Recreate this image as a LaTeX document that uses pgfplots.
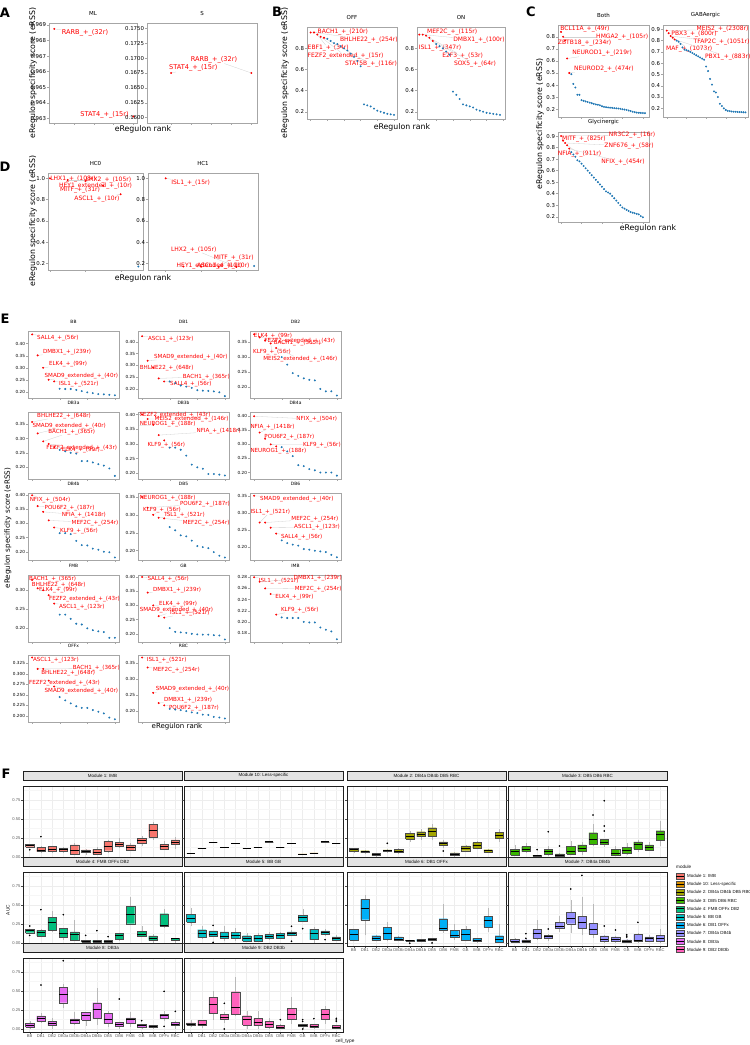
\documentclass[border=0pt]{standalone}
\usepackage{fontspec}
\setmainfont{DejaVu Sans}
\newfontfamily\ggf{Liberation Sans}
\usepackage{pgfplots}
\pgfplotsset{compat=1.18}
\newcommand\fs[1]{\fontsize{#1}{#1}\selectfont}

\definecolor{cblue}{HTML}{1F77B4}
\definecolor{m1}{HTML}{F8766D}
\definecolor{m10}{HTML}{D89000}
\definecolor{m2}{HTML}{A3A500}
\definecolor{m3}{HTML}{39B600}
\definecolor{m4}{HTML}{00BF7D}
\definecolor{m5}{HTML}{00BFC4}
\definecolor{m6}{HTML}{00B0F6}
\definecolor{m7}{HTML}{9590FF}
\definecolor{m8}{HTML}{E76BF3}
\definecolor{m9}{HTML}{FF62BC}

\pgfplotsset{
  every axis/.append style={scaled ticks=false, /pgf/number format/assume math mode=true},
  pos/.style 2 args={at={(#1pt,-#2pt)}, anchor=north west},
  rs/.style={scale only axis, clip=false, axis line style={gray!70, line width=0.4pt},
    tick pos=left, tick align=outside, major tick length=1.8pt,
    tick style={gray!70, line width=0.4pt}, xticklabels={},
    title style={font=\fs{5.5}, inner sep=1.2pt},
    yticklabel style={font=\fs{5.4}, inner sep=1pt}},
  es/.style={rs, width=91pt, height=67pt, xmin=-0.75, xmax=15.75, xtick={0,5,10,15},
    title style={font=\fs{4.4}, inner sep=1.2pt}, yticklabel style={font=\fs{4.2}}},
  prec/.style={yticklabel style={/pgf/number format/.cd, fixed, fixed zerofill, precision=#1}},
  rp/.style={only marks, mark=*, mark size=0.75pt, color=red, mark options={draw=none, fill=red}},
  bp/.style={only marks, mark=*, mark size=0.75pt, color=cblue, mark options={draw=none, fill=cblue}},
  % ggplot facets
  fb/.style={scale only axis, width=159pt, height=74pt, xmin=0.4, xmax=14.6, ymin=-0.04, ymax=0.935,
    xtick={1,2,...,14}, xticklabels={BB,DB1,DB2,DB3a,DB3b,DB4a,DB4b,DB5,DB6,FMB,GB,IMB,OFFx,RBC},
    ytick={0,0.25,0.5,0.75}, minor ytick={0.125,0.375,0.625,0.875},
    xmajorgrids, ymajorgrids, yminorgrids,
    major grid style={gray!14, line width=0.45pt}, minor grid style={gray!7, line width=0.3pt},
    axis line style={gray!25!black, line width=0.45pt},
    tick pos=left, tick align=outside, major tick length=1.6pt, minor tick length=0pt,
    tick style={gray!60!black, line width=0.35pt},
    xticklabel style={font=\ggf\fs{4.1}, text=gray!70!black, inner sep=0.8pt},
    yticklabel style={font=\ggf\fs{4.1}, text=gray!70!black, inner sep=0.8pt,
      /pgf/number format/.cd, fixed, fixed zerofill, precision=2}},
  nox/.style={xticklabels={}},
  noy/.style={yticklabels={}},
  strip/.style={title={#1}, title style={at={(0.5,1)}, anchor=south, yshift=-0.2pt,
    fill=gray!22, draw=gray!25!black, line width=0.45pt, minimum width=159pt,
    minimum height=9pt, inner sep=0pt, font=\ggf\fs{4.5}, text=gray!10!black}},
}
\tikzset{lc/.style={gray!35, line width=0.3pt}}

\newcommand\lab[5]{\node[lab] (L) at (axis cs:#1,#2) {#3}; \draw[lc] (L) -- (axis cs:#4,#5);}
% box: position, lower whisker, lower quartile, median, upper quartile, upper whisker
\newcommand\bxp[6]{%
  \pgfmathsetmacro\bxl{#1-0.375}\pgfmathsetmacro\bxr{#1+0.375}%
  \addplot[gray!55, line width=0.35pt] coordinates {(#1,#2) (#1,#3)};
  \addplot[gray!55, line width=0.35pt] coordinates {(#1,#5) (#1,#6)};
  \addplot[fill=mc, draw=gray!60!black, line width=0.35pt, line join=miter]
    coordinates {(\bxl,#3) (\bxr,#3) (\bxr,#5) (\bxl,#5) (\bxl,#3)};
  \addplot[black, line width=0.8pt] coordinates {(\bxl,#4) (\bxr,#4)};
}
\newcommand\olr[1]{\addplot[only marks, mark=*, mark size=0.6pt, color=black] coordinates {#1};}

\begin{document}
\begin{tikzpicture}
\fill[white] (0,0) rectangle (750pt,-1045pt);
\useasboundingbox (0,0) rectangle (750pt,-1045pt);

% ---------------- Panel A ----------------
\tikzset{lab/.style={text=red, anchor=west, inner sep=0.2pt, font=\fs{6.6}}}
\begin{axis}[rs, pos={49}{23}, width=88pt, height=100pt, title={ML},
  xmin=-0.067, xmax=1.047, xtick={0,0.25,0.5,0.75,1},
  ymin=0.9627, ymax=0.96913, ytick={0.963,0.964,0.965,0.966,0.967,0.968,0.969}, prec=3]
\addplot[rp] coordinates {(0,0.96875) (1,0.96312)};
\lab{0.09}{0.9685}{RARB\_+\_(32r)}{0}{0.96875}
\lab{0.325}{0.9632}{STAT4\_+\_(15r)}{1}{0.96312}
\end{axis}
\begin{axis}[rs, pos={147}{23}, width=110pt, height=100pt, title={S},
  xmin=-0.30, xmax=1.07, xtick={0,0.25,0.5,0.75,1},
  ymin=0.1591, ymax=0.1759, ytick={0.16,0.1625,0.165,0.1675,0.17,0.1725,0.175}, prec=4]
\addplot[rp] coordinates {(0,0.1675) (1,0.1675)};
\lab{0.24}{0.1697}{RARB\_+\_(32r)}{1}{0.1675}
\lab{-0.03}{0.1683}{STAT4\_+\_(15r)}{0}{0.1675}
\end{axis}

% ---------------- Panel B ----------------
\tikzset{lab/.style={text=red, anchor=west, inner sep=0.2pt, font=\fs{6}}}
\begin{axis}[rs, pos={307}{27}, width=90pt, height=92pt, title={OFF},
  xmin=-1.1, xmax=25.9, xtick={0,5,...,25},
  ymin=0.131, ymax=1.002, ytick={0.2,0.4,0.6,0.8}, prec=1]
\addplot[bp] coordinates {(5,.89)(6,.87)(7,.85)(8,.84)(9,.82)(10,.80)(11,.78)(12,.75)(13,.72)(14,.68)(15,.63)
 (16,.27)(17,.26)(18,.25)(19,.23)(20,.21)(21,.20)(22,.19)(23,.18)(24,.175)(25,.17)};
\addplot[rp] coordinates {(0,.95)(1,.95)(2,.93)(3,.91)(4,.90)};
\lab{2}{.952}{BACH1\_+\_(210r)}{0}{.95}
\lab{8.7}{.879}{BHLHE22\_+\_(254r)}{1}{.95}
\lab{-1}{.80}{EBF1\_+\_(34r)}{2}{.93}
\lab{-1}{.727}{FEZF2\_extended\_+\_(15r)}{3}{.91}
\lab{10.2}{.651}{STAT5B\_+\_(116r)}{4}{.90}
\end{axis}
\begin{axis}[rs, pos={417}{27}, width=88pt, height=92pt, title={ON},
  xmin=-0.7, xmax=25.5, xtick={0,5,...,25},
  ymin=0.131, ymax=1.002, ytick={0.2,0.4,0.6,0.8}, prec=1]
\addplot[bp] coordinates {(5,.84)(6,.82)(7,.80)(8,.77)(9,.74)(10,.39)(11,.36)(12,.32)(13,.27)(14,.26)(15,.25)
 (16,.24)(17,.22)(18,.21)(19,.20)(20,.19)(21,.185)(22,.18)(23,.175)(24,.17)};
\addplot[rp] coordinates {(0,.93)(1,.93)(2,.92)(3,.90)(4,.87)};
\lab{2.2}{.952}{MEF2C\_+\_(115r)}{0}{.93}
\lab{10}{.879}{DMBX1\_+\_(100r)}{1}{.93}
\lab{-0.3}{.806}{ISL1\_+\_(347r)}{2}{.92}
\lab{6.7}{.727}{E2F3\_+\_(53r)}{3}{.90}
\lab{10.2}{.651}{SOX5\_+\_(64r)}{4}{.87}
\end{axis}

% ---------------- Panel C ----------------
\begin{axis}[rs, pos={558}{25}, width=91pt, height=92pt, title={Both},
  xmin=-1.5, xmax=43, xtick={0,10,20,30,40},
  ymin=0.136, ymax=0.897, ytick={0.2,0.3,0.4,0.5,0.6,0.7,0.8}, prec=1]
\addplot[bp] coordinates {(5,.49)(6,.41)(7,.38)(8,.32)(9,.32)(10,.275)(11,.27)(12,.265)(13,.26)(14,.255)(15,.25)
 (16,.245)(17,.24)(18,.237)(19,.233)(20,.225)(21,.22)(22,.217)(23,.215)(24,.213)(25,.212)(26,.21)(27,.208)
 (28,.206)(29,.204)(30,.20)(31,.198)(32,.195)(33,.19)(34,.185)(35,.18)(36,.176)(37,.173)(38,.171)(39,.17)
 (40,.169)(41,.168)};
\addplot[rp] coordinates {(0,.84)(1,.80)(2,.77)(3,.62)(4,.50)};
\lab{-0.5}{.861}{BCL11A\_+\_(49r)}{0}{.84}
\lab{17}{.80}{HMGA2\_+\_(105r)}{1}{.80}
\lab{-1.7}{.745}{ZBTB18\_+\_(234r)}{2}{.77}
\lab{5.3}{.662}{NEUROD1\_+\_(219r)}{3}{.62}
\lab{6.2}{.533}{NEUROD2\_+\_(474r)}{4}{.50}
\end{axis}
\begin{axis}[rs, pos={663}{25}, width=85pt, height=92pt, title={GABAergic},
  xmin=-1.9, xmax=41.3, xtick={0,10,20,30,40},
  ymin=0.123, ymax=0.938, ytick={0.2,0.3,0.4,0.5,0.6,0.7,0.8,0.9}, prec=1]
\addplot[bp] coordinates {(5,.80)(6,.79)(7,.77)(8,.74)(9,.72)(10,.715)(11,.71)(12,.70)(13,.69)(14,.68)(15,.67)
 (16,.66)(17,.65)(18,.64)(19,.63)(20,.57)(21,.53)(22,.46)(23,.41)(24,.35)(25,.34)(26,.30)(27,.24)(28,.22)
 (29,.20)(30,.185)(31,.178)(32,.175)(33,.172)(34,.17)(35,.169)(36,.168)(37,.167)(38,.166)(39,.165)(40,.164)};
\addplot[rp] coordinates {(0,.888)(1,.865)(2,.84)(3,.826)(4,.81)};
\lab{15}{.90}{MEIS2\_+\_(2308r)}{0}{.888}
\lab{2.2}{.856}{PBX3\_+\_(800r)}{1}{.865}
\lab{13.5}{.785}{TFAP2C\_+\_(1051r)}{2}{.84}
\lab{-0.5}{.723}{MAF\_+\_(1073r)}{3}{.826}
\lab{19.3}{.658}{PBX1\_+\_(883r)}{4}{.81}
\end{axis}
\begin{axis}[rs, pos={558}{132}, width=91pt, height=90pt, title={Glycinergic},
  xmin=-1.5, xmax=43, xtick={0,10,20,30,40},
  ymin=0.154, ymax=0.935, ytick={0.2,0.3,0.4,0.5,0.6,0.7,0.8,0.9}, prec=1]
\addplot[bp] coordinates {(5,.76)(6,.74)(7,.72)(8,.69)(9,.68)(10,.66)(11,.64)(12,.62)(13,.60)(14,.58)(15,.56)
 (16,.54)(17,.52)(18,.50)(19,.48)(20,.46)(21,.44)(22,.42)(23,.41)(24,.40)(25,.38)(26,.36)(27,.34)(28,.32)
 (29,.30)(30,.28)(31,.27)(32,.26)(33,.25)(34,.24)(35,.235)(36,.23)(37,.225)(38,.22)(39,.205)(40,.195)};
\addplot[rp] coordinates {(0,.90)(1,.86)(2,.84)(3,.82)(4,.79)};
\lab{23.2}{.909}{NR3C2\_+\_(16r)}{0}{.90}
\lab{0.3}{.871}{MITF\_+\_(825r)}{1}{.86}
\lab{21}{.813}{ZNF676\_+\_(58r)}{2}{.84}
\lab{-1.8}{.744}{NFIA\_+\_(911r)}{3}{.82}
\lab{19.5}{.672}{NFIX\_+\_(454r)}{4}{.79}
\end{axis}

% ---------------- Panel D ----------------
\begin{axis}[rs, pos={48}{173}, width=95pt, height=97pt, title={HC0},
  xmin=-0.11, xmax=5.26, xtick={0,2,4},
  ymin=0.137, ymax=1.05, ytick={0.2,0.4,0.6,0.8,1.0}, prec=1]
\addplot[bp] coordinates {(5,.17)};
\addplot[rp] coordinates {(0,1.0)(1,.985)(2,.975)(3,.93)(4,.85)};
\lab{0}{.995}{LHX1\_+\_(108r)}{0}{1.0}
\lab{2}{.985}{LHX2\_+\_(105r)}{1}{.985}
\lab{0.5}{.93}{HEY1\_extended\_+\_(10r)}{2}{.975}
\lab{0.55}{.89}{MITF\_+\_(31r)}{3}{.93}
\lab{1.36}{.81}{ASCL1\_+\_(10r)}{4}{.85}
\end{axis}
\begin{axis}[rs, pos={148}{173}, width=110pt, height=97pt, title={HC1},
  xmin=-1.0, xmax=5.22, xtick={0,2,4},
  ymin=0.137, ymax=1.05, ytick={0.2,0.4,0.6,0.8,1.0}, prec=1]
\addplot[bp] coordinates {(5,.175)};
\addplot[rp] coordinates {(0,1.0)(1,.17)(2,.168)(3,.167)(4,.166)};
\lab{0.3}{.96}{ISL1\_+\_(15r)}{0}{1.0}
\lab{0.28}{.33}{LHX2\_+\_(105r)}{4}{.166}
\lab{2.7}{.255}{MITF\_+\_(31r)}{3}{.167}
\lab{0.6}{.18}{HEY1\_extended\_+\_(10r)}{1}{.17}
\lab{1.75}{.18}{ASCL1\_+\_(10r)}{2}{.168}
\end{axis}

% ---------------- Panel E ----------------
\tikzset{lab/.style={text=red, anchor=west, inner sep=0.2pt, font=\fs{5.6}}}
\begin{axis}[es, pos={28}{331}, title={BB}, ymin=0.177, ymax=0.452, ytick={0.2,0.25,0.3,0.35,0.4}, prec=2]
\addplot[bp] coordinates {(5,.215)(6,.214)(7,.214)(8,.21)(9,.205)(10,.20)(11,.197)(12,.193)(13,.192)(14,.19)(15,.188)};
\addplot[rp] coordinates {(0,.438)(1,.352)(2,.301)(3,.252)(4,.245)};
\lab{0.85}{.424}{SALL4\_+\_(56r)}{0}{.438}
\lab{1.9}{.366}{DMBX1\_+\_(239r)}{1}{.352}
\lab{3}{.316}{ELK4\_+\_(99r)}{2}{.301}
\lab{2.2}{.268}{SMAD9\_extended\_+\_(40r)}{3}{.252}
\lab{4.8}{.234}{ISL1\_+\_(521r)}{4}{.245}
\end{axis}
\begin{axis}[es, pos={138}{331}, title={DB1}, ymin=0.162, ymax=0.446, ytick={0.2,0.25,0.3,0.35,0.4}, prec=2]
\addplot[bp] coordinates {(5,.232)(6,.225)(7,.215)(8,.21)(9,.205)(10,.195)(11,.193)(12,.192)(13,.19)(14,.186)(15,.17)};
\addplot[rp] coordinates {(0,.424)(1,.32)(2,.29)(3,.245)(4,.232)};
\lab{1}{.414}{ASCL1\_+\_(123r)}{0}{.424}
\lab{2.1}{.337}{SMAD9\_extended\_+\_(40r)}{1}{.32}
\lab{-0.5}{.287}{BHLHE22\_+\_(648r)}{2}{.29}
\lab{7.3}{.253}{BACH1\_+\_(365r)}{3}{.245}
\lab{5}{.222}{SALL4\_+\_(56r)}{4}{.232}
\end{axis}
\begin{axis}[es, pos={250}{331}, title={DB2}, ymin=0.165, ymax=0.386, ytick={0.2,0.25,0.3,0.35}, prec=2]
\addplot[bp] coordinates {(5,.30)(6,.275)(7,.247)(8,.238)(9,.23)(10,.225)(11,.223)(12,.195)(13,.187)(14,.187)(15,.173)};
\addplot[rp] coordinates {(0,.375)(1,.365)(2,.355)(3,.345)(4,.33)};
\lab{-0.1}{.37}{ELK4\_+\_(99r)}{0}{.375}
\lab{1.8}{.354}{FEZF2\_extended\_+\_(43r)}{1}{.365}
\lab{3.5}{.346}{BACH1\_+\_(365r)}{2}{.355}
\lab{-0.25}{.316}{KLF9\_+\_(56r)}{3}{.345}
\lab{1.6}{.293}{MEIS2\_extended\_+\_(146r)}{4}{.33}
\end{axis}

\begin{axis}[es, pos={28}{412}, title={DB3a}, ymin=0.158, ymax=0.393, ytick={0.2,0.25,0.3,0.35}, prec=2]
\addplot[bp] coordinates {(5,.26)(6,.255)(7,.25)(8,.247)(9,.221)(10,.221)(11,.216)(12,.21)(13,.205)(14,.195)(15,.169)};
\addplot[rp] coordinates {(0,.358)(1,.318)(2,.29)(3,.281)(4,.27)};
\lab{0.85}{.38}{BHLHE22\_+\_(648r)}{0}{.358}
\lab{0}{.345}{SMAD9\_extended\_+\_(40r)}{1}{.318}
\lab{2.85}{.323}{BACH1\_+\_(365r)}{2}{.29}
\lab{2.5}{.265}{FEZF2\_extended\_+\_(43r)}{3}{.281}
\lab{5.3}{.26}{ELK4\_+\_(99r)}{4}{.27}
\end{axis}
\begin{axis}[es, pos={138}{412}, title={DB3b}, ymin=0.18, ymax=0.409, ytick={0.2,0.25,0.3,0.35,0.4}, prec=2]
\addplot[bp] coordinates {(5,.287)(6,.287)(7,.28)(8,.26)(9,.229)(10,.22)(11,.215)(12,.197)(13,.197)(14,.195)(15,.192)};
\addplot[rp] coordinates {(0,.40)(1,.385)(2,.365)(3,.33)(4,.312)};
\lab{-0.5}{.40}{FEZF2\_extended\_+\_(43r)}{0}{.40}
\lab{2.2}{.384}{MEIS2\_extended\_+\_(146r)}{1}{.385}
\lab{-0.5}{.368}{NEUROG1\_+\_(188r)}{2}{.365}
\lab{9.8}{.343}{NFIA\_+\_(1418r)}{3}{.33}
\lab{0.9}{.295}{KLF9\_+\_(56r)}{4}{.312}
\end{axis}
\begin{axis}[es, pos={250}{412}, title={DB4a}, ymin=0.177, ymax=0.415, ytick={0.2,0.25,0.3,0.35,0.4}, prec=2]
\addplot[bp] coordinates {(5,.29)(6,.275)(7,.258)(8,.226)(9,.223)(10,.212)(11,.208)(12,.20)(13,.20)(14,.20)(15,.189)};
\addplot[rp] coordinates {(0,.40)(1,.342)(2,.32)(3,.30)(4,.293)};
\lab{7.6}{.389}{NFIX\_+\_(504r)}{0}{.40}
\lab{-0.73}{.363}{NFIA\_+\_(1418r)}{1}{.342}
\lab{1.8}{.327}{POU6F2\_+\_(187r)}{2}{.32}
\lab{8.8}{.299}{KLF9\_+\_(56r)}{3}{.30}
\lab{-0.73}{.276}{NEUROG1\_+\_(188r)}{4}{.293}
\end{axis}

\begin{axis}[es, pos={28}{493}, title={DB4b}, ymin=0.171, ymax=0.406, ytick={0.2,0.25,0.3,0.35,0.4}, prec=2]
\addplot[bp] coordinates {(5,.265)(6,.265)(7,.262)(8,.238)(9,.223)(10,.222)(11,.211)(12,.207)(13,.20)(14,.198)(15,.18)};
\addplot[rp] coordinates {(0,.398)(1,.36)(2,.34)(3,.31)(4,.285)};
\lab{-0.5}{.383}{NFIX\_+\_(504r)}{0}{.398}
\lab{2.2}{.355}{POU6F2\_+\_(187r)}{1}{.36}
\lab{5.3}{.328}{NFIA\_+\_(1418r)}{2}{.34}
\lab{7.1}{.302}{MEF2C\_+\_(254r)}{3}{.31}
\lab{5}{.274}{KLF9\_+\_(56r)}{4}{.285}
\end{axis}
\begin{axis}[es, pos={138}{493}, title={DB5}, ymin=0.174, ymax=0.361, ytick={0.2,0.25,0.3,0.35}, prec=2]
\addplot[bp] coordinates {(5,.266)(6,.257)(7,.243)(8,.24)(9,.228)(10,.213)(11,.21)(12,.207)(13,.196)(14,.186)(15,.181)};
\addplot[rp] coordinates {(0,.35)(1,.32)(2,.30)(3,.292)(4,.29)};
\lab{-0.5}{.348}{NEUROG1\_+\_(188r)}{0}{.35}
\lab{6.8}{.331}{POU6F2\_+\_(187r)}{1}{.32}
\lab{0.1}{.313}{KLF9\_+\_(56r)}{2}{.30}
\lab{4.1}{.299}{ISL1\_+\_(521r)}{3}{.292}
\lab{7.3}{.277}{MEF2C\_+\_(254r)}{4}{.29}
\end{axis}
\begin{axis}[es, pos={250}{493}, title={DB6}, ymin=0.163, ymax=0.358, ytick={0.2,0.25,0.3,0.35}, prec=2]
\addplot[bp] coordinates {(5,.22)(6,.212)(7,.208)(8,.205)(9,.195)(10,.193)(11,.19)(12,.188)(13,.186)(14,.178)(15,.171)};
\addplot[rp] coordinates {(0,.35)(1,.272)(2,.272)(3,.257)(4,.24)};
\lab{1}{.341}{SMAD9\_extended\_+\_(40r)}{0}{.35}
\lab{-0.73}{.303}{ISL1\_+\_(521r)}{1}{.272}
\lab{6.7}{.282}{MEF2C\_+\_(254r)}{2}{.272}
\lab{7.2}{.258}{ASCL1\_+\_(123r)}{3}{.257}
\lab{4.8}{.231}{SALL4\_+\_(56r)}{4}{.24}
\end{axis}

\begin{axis}[es, pos={28}{575}, title={FMB}, ymin=0.164, ymax=0.34, ytick={0.2,0.25,0.3}, prec=2]
\addplot[bp] coordinates {(5,.236)(6,.236)(7,.225)(8,.212)(9,.21)(10,.20)(11,.195)(12,.192)(13,.19)(14,.175)(15,.175)};
\addplot[rp] coordinates {(0,.327)(1,.305)(2,.30)(3,.287)(4,.265)};
\lab{-0.6}{.329}{BACH1\_+\_(365r)}{0}{.327}
\lab{-0.1}{.313}{BHLHE22\_+\_(648r)}{1}{.305}
\lab{1.2}{.30}{ELK4\_+\_(99r)}{2}{.30}
\lab{3}{.278}{FEZF2\_extended\_+\_(43r)}{3}{.287}
\lab{4.8}{.257}{ASCL1\_+\_(123r)}{4}{.265}
\end{axis}
\begin{axis}[es, pos={138}{575}, title={GB}, ymin=0.171, ymax=0.407, ytick={0.2,0.25,0.3,0.35,0.4}, prec=2]
\addplot[bp] coordinates {(5,.22)(6,.207)(7,.205)(8,.203)(9,.20)(10,.198)(11,.197)(12,.197)(13,.195)(14,.194)(15,.18)};
\addplot[rp] coordinates {(0,.40)(1,.345)(2,.30)(3,.262)(4,.257)};
\lab{0.9}{.392}{SALL4\_+\_(56r)}{0}{.40}
\lab{1.9}{.353}{DMBX1\_+\_(239r)}{1}{.345}
\lab{3}{.303}{ELK4\_+\_(99r)}{2}{.30}
\lab{-0.5}{.282}{SMAD9\_extended\_+\_(40r)}{3}{.262}
\lab{5}{.274}{ISL1\_+\_(521r)}{4}{.257}
\end{axis}
\begin{axis}[es, pos={250}{575}, title={IMB}, ymin=0.164, ymax=0.284, ytick={0.18,0.2,0.22,0.24,0.26,0.28}, prec=2]
\addplot[bp] coordinates {(5,.208)(6,.207)(7,.207)(8,.207)(9,.20)(10,.199)(11,.199)(12,.19)(13,.186)(14,.183)(15,.169)};
\addplot[rp] coordinates {(0,.28)(1,.272)(2,.26)(3,.25)(4,.213)};
\lab{0.8}{.274}{ISL1\_+\_(521r)}{0}{.28}
\lab{7.1}{.279}{DMBX1\_+\_(239r)}{1}{.272}
\lab{7.3}{.259}{MEF2C\_+\_(254r)}{2}{.26}
\lab{3.8}{.244}{ELK4\_+\_(99r)}{3}{.25}
\lab{4.8}{.222}{KLF9\_+\_(56r)}{4}{.213}
\end{axis}

\begin{axis}[es, pos={28}{655}, title={OFFx}, ymin=0.1855, ymax=0.345, ytick={0.2,0.225,0.25,0.275,0.3,0.325}, prec=3]
\addplot[bp] coordinates {(5,.245)(6,.237)(7,.23)(8,.223)(9,.219)(10,.219)(11,.214)(12,.21)(13,.206)(14,.196)(15,.192)};
\addplot[rp] coordinates {(0,.339)(1,.312)(2,.312)(3,.284)(4,.27)};
\lab{0.1}{.333}{ASCL1\_+\_(123r)}{0}{.339}
\lab{7.3}{.313}{BACH1\_+\_(365r)}{1}{.312}
\lab{1.6}{.301}{BHLHE22\_+\_(648r)}{2}{.312}
\lab{-0.6}{.278}{FEZF2\_extended\_+\_(43r)}{3}{.284}
\lab{2.2}{.259}{SMAD9\_extended\_+\_(40r)}{4}{.27}
\end{axis}
\begin{axis}[es, pos={138}{655}, title={RBC}, ymin=0.167, ymax=0.376, ytick={0.2,0.25,0.3,0.35}, prec=2]
\addplot[bp] coordinates {(5,.208)(6,.206)(7,.204)(8,.201)(9,.197)(10,.195)(11,.19)(12,.189)(13,.183)(14,.181)(15,.178)};
\addplot[rp] coordinates {(0,.368)(1,.337)(2,.258)(3,.226)(4,.219)};
\lab{0.8}{.359}{ISL1\_+\_(521r)}{0}{.368}
\lab{1.9}{.329}{MEF2C\_+\_(254r)}{1}{.337}
\lab{2.4}{.269}{SMAD9\_extended\_+\_(40r)}{2}{.258}
\lab{3.9}{.236}{DMBX1\_+\_(239r)}{3}{.226}
\lab{4.8}{.211}{POU6F2\_+\_(187r)}{4}{.219}
\end{axis}

% axis labels and panel letters A-E
\node[rotate=90, font=\fs{7.8}] at (33pt,-73pt) {eRegulon specificity score (eRSS)};
\node[font=\fs{7.8}] at (143pt,-129pt) {eRegulon rank};
\node[rotate=90, font=\fs{7.8}] at (285pt,-73pt) {eRegulon specificity score (eRSS)};
\node[font=\fs{7.8}] at (402pt,-127pt) {eRegulon rank};
\node[rotate=90, font=\fs{7.8}] at (540pt,-124pt) {eRegulon specificity score (eRSS)};
\node[font=\fs{7.8}] at (648pt,-228pt) {eRegulon rank};
\node[rotate=90, font=\fs{7.8}] at (33pt,-221pt) {eRegulon specificity score (eRSS)};
\node[font=\fs{7.8}] at (143pt,-278pt) {eRegulon rank};
\node[rotate=90, font=\fs{7.2}] at (8pt,-528pt) {eRegulon specificity score (eRSS)};
\node[font=\fs{7}] at (177pt,-727pt) {eRegulon rank};
\node[font=\bfseries\fs{13}] at (5pt,-13pt) {A};
\node[font=\bfseries\fs{13}] at (277pt,-12pt) {B};
\node[font=\bfseries\fs{13}] at (531pt,-12pt) {C};
\node[font=\bfseries\fs{13}] at (5pt,-167pt) {D};
\node[font=\bfseries\fs{13}] at (5pt,-319pt) {E};
\node[font=\bfseries\fs{13}] at (6pt,-774pt) {F};

% ---------------- Panel F ----------------
\colorlet{mc}{m1}
\begin{axis}[fb, pos={23}{786}, strip={Module 1: IMB}, nox]
\bxp{1}{.13}{.135}{.149}{.17}{.175}
\bxp{2}{.05}{.07}{.088}{.123}{.14}
\bxp{3}{.05}{.07}{.10}{.136}{.15}
\bxp{4}{.06}{.07}{.096}{.114}{.13}
\bxp{5}{.02}{.04}{.088}{.158}{.18}
\bxp{6}{.03}{.057}{.079}{.092}{.11}
\bxp{7}{.02}{.04}{.06}{.10}{.13}
\bxp{8}{.05}{.083}{.145}{.21}{.23}
\bxp{9}{.12}{.14}{.167}{.193}{.25}
\bxp{10}{.08}{.092}{.13}{.158}{.19}
\bxp{11}{.14}{.18}{.219}{.245}{.28}
\bxp{12}{.23}{.26}{.346}{.434}{.46}
\bxp{13}{.09}{.105}{.136}{.167}{.21}
\bxp{14}{.10}{.167}{.197}{.224}{.26}
\olr{(1,.096)(2,.268)}
\end{axis}
\colorlet{mc}{m10}
\begin{axis}[fb, pos={184}{786}, strip={Module 10: Less-specific}, nox, noy]
\bxp{1}{.044}{.044}{.044}{.044}{.044}
\bxp{2}{.114}{.114}{.114}{.114}{.114}
\bxp{3}{.197}{.197}{.197}{.197}{.197}
\bxp{4}{.123}{.123}{.123}{.123}{.123}
\bxp{5}{.18}{.18}{.18}{.18}{.18}
\bxp{6}{.118}{.118}{.118}{.118}{.118}
\bxp{7}{.127}{.127}{.127}{.127}{.127}
\bxp{8}{.20}{.20}{.20}{.20}{.20}
\bxp{9}{.127}{.127}{.127}{.127}{.127}
\bxp{10}{.18}{.18}{.18}{.18}{.18}
\bxp{11}{.04}{.04}{.04}{.04}{.04}
\bxp{12}{.053}{.053}{.053}{.053}{.053}
\bxp{13}{.20}{.20}{.20}{.20}{.20}
\bxp{14}{.184}{.184}{.184}{.184}{.184}
\end{axis}
\colorlet{mc}{m2}
\begin{axis}[fb, pos={347}{786}, strip={Module 2: DB4a DB4b DB5 RBC}, nox, noy]
\bxp{1}{.06}{.07}{.096}{.114}{.12}
\bxp{2}{.04}{.057}{.07}{.083}{.09}
\bxp{3}{.01}{.018}{.03}{.044}{.05}
\bxp{4}{.06}{.07}{.083}{.092}{.10}
\bxp{5}{.04}{.057}{.079}{.105}{.12}
\bxp{6}{.20}{.237}{.276}{.31}{.34}
\bxp{7}{.23}{.268}{.30}{.333}{.37}
\bxp{8}{.22}{.268}{.342}{.386}{.43}
\bxp{9}{.12}{.15}{.18}{.20}{.22}
\bxp{10}{.01}{.018}{.035}{.053}{.07}
\bxp{11}{.07}{.083}{.114}{.145}{.16}
\bxp{12}{.10}{.118}{.158}{.19}{.21}
\bxp{13}{.05}{.061}{.083}{.096}{.10}
\bxp{14}{.20}{.246}{.285}{.325}{.37}
\olr{(4,.18)(9,.079)}
\end{axis}
\colorlet{mc}{m3}
\begin{axis}[fb, pos={508}{786}, strip={Module 3: DB5 DB6 RBC}, nox, noy]
\bxp{1}{.01}{.026}{.07}{.105}{.16}
\bxp{2}{.05}{.07}{.10}{.136}{.18}
\bxp{3}{0}{.01}{.018}{.026}{.03}
\bxp{4}{.01}{.04}{.07}{.105}{.15}
\bxp{5}{0}{.01}{.022}{.04}{.05}
\bxp{6}{.02}{.04}{.079}{.136}{.21}
\bxp{7}{.03}{.079}{.118}{.158}{.20}
\bxp{8}{.15}{.171}{.237}{.32}{.43}
\bxp{9}{.13}{.167}{.197}{.232}{.24}
\bxp{10}{.01}{.026}{.044}{.105}{.14}
\bxp{11}{.02}{.048}{.083}{.127}{.18}
\bxp{12}{.07}{.105}{.167}{.20}{.23}
\bxp{13}{.08}{.092}{.127}{.158}{.20}
\bxp{14}{.14}{.224}{.30}{.346}{.48}
\olr{(3,.096)(4,.333)(5,.145)(8,.553)(9,.741)(9,.408)(9,.342)}
\end{axis}

\colorlet{mc}{m4}
\begin{axis}[fb, pos={23}{872}, strip={Module 4: FMB OFFx DB2}, nox]
\bxp{1}{.135}{.135}{.162}{.18}{.18}
\bxp{2}{.08}{.092}{.136}{.167}{.18}
\bxp{3}{.14}{.167}{.272}{.342}{.42}
\bxp{4}{.04}{.07}{.132}{.189}{.20}
\bxp{5}{.03}{.035}{.114}{.145}{.30}
\bxp{6}{0}{.009}{.018}{.035}{.04}
\bxp{7}{.01}{.013}{.026}{.035}{.04}
\bxp{8}{0}{.009}{.018}{.031}{.04}
\bxp{9}{.03}{.048}{.096}{.123}{.13}
\bxp{10}{.24}{.254}{.373}{.482}{.61}
\bxp{11}{.09}{.092}{.118}{.153}{.22}
\bxp{12}{0}{.035}{.061}{.092}{.12}
\bxp{13}{.20}{.224}{.237}{.386}{.45}
\bxp{14}{0}{.035}{.055}{.057}{.06}
\olr{(1,.224)(1,.10)(2,.439)(4,.373)(6,.10)(7,.162)(8,.083)}
\end{axis}
\colorlet{mc}{m5}
\begin{axis}[fb, pos={184}{872}, strip={Module 5: BB GB}, nox, noy]
\bxp{1}{.22}{.276}{.329}{.373}{.46}
\bxp{2}{.06}{.07}{.123}{.175}{.22}
\bxp{3}{.08}{.092}{.118}{.158}{.16}
\bxp{4}{.02}{.057}{.092}{.145}{.22}
\bxp{5}{.03}{.061}{.096}{.136}{.20}
\bxp{6}{.01}{.026}{.061}{.096}{.13}
\bxp{7}{.01}{.026}{.057}{.10}{.13}
\bxp{8}{.04}{.061}{.092}{.118}{.14}
\bxp{9}{.05}{.066}{.096}{.123}{.14}
\bxp{10}{.09}{.10}{.123}{.145}{.17}
\bxp{11}{.27}{.29}{.338}{.36}{.45}
\bxp{12}{0}{.044}{.127}{.184}{.21}
\bxp{13}{.10}{.11}{.145}{.158}{.18}
\bxp{14}{.02}{.04}{.061}{.079}{.10}
\olr{(3,.232)(3,.009)(10,.219)(10,.022)(11,.189)(13,.044)}
\end{axis}
\colorlet{mc}{m6}
\begin{axis}[fb, pos={347}{872}, strip={Module 6: DB1 OFFx}, noy]
\bxp{1}{.02}{.035}{.118}{.18}{.18}
\bxp{2}{.10}{.307}{.452}{.575}{.63}
\bxp{3}{.02}{.035}{.066}{.096}{.11}
\bxp{4}{.02}{.048}{.127}{.202}{.28}
\bxp{5}{.02}{.035}{.053}{.079}{.09}
\bxp{6}{.01}{.022}{.031}{.035}{.04}
\bxp{7}{.01}{.022}{.04}{.048}{.05}
\bxp{8}{.03}{.035}{.053}{.057}{.06}
\bxp{9}{.13}{.171}{.197}{.32}{.52}
\bxp{10}{.04}{.079}{.105}{.167}{.25}
\bxp{11}{.02}{.035}{.114}{.18}{.22}
\bxp{12}{.01}{.018}{.035}{.061}{.07}
\bxp{13}{.14}{.21}{.294}{.351}{.46}
\bxp{14}{0}{.013}{.048}{.096}{.25}
\olr{(6,-.004)(8,0)}
\end{axis}
\colorlet{mc}{m7}
\begin{axis}[fb, pos={508}{872}, strip={Module 7: DB4a DB4b}, noy]
\bxp{1}{0}{.013}{.026}{.044}{.06}
\bxp{2}{0}{.013}{.022}{.04}{.05}
\bxp{3}{.04}{.057}{.132}{.18}{.30}
\bxp{4}{.03}{.057}{.088}{.10}{.12}
\bxp{5}{.15}{.189}{.224}{.268}{.36}
\bxp{6}{.13}{.254}{.32}{.408}{.57}
\bxp{7}{.10}{.197}{.272}{.351}{.61}
\bxp{8}{.07}{.118}{.18}{.263}{.51}
\bxp{9}{0}{.018}{.048}{.092}{.10}
\bxp{10}{0}{.018}{.044}{.079}{.09}
\bxp{11}{0}{.013}{.026}{.04}{.05}
\bxp{12}{0}{.026}{.035}{.114}{.13}
\bxp{13}{.01}{.026}{.057}{.079}{.10}
\bxp{14}{0}{.026}{.057}{.10}{.18}
\olr{(2,.123)(2,.061)(4,.184)(6,.711)(7,.89)(9,.224)(10,.171)(11,.11)(11,.092)(11,.079)(12,.272)}
\end{axis}

\colorlet{mc}{m8}
\begin{axis}[fb, pos={23}{958}, strip={Module 8: DB3a}]
\bxp{1}{0}{.022}{.053}{.075}{.11}
\bxp{2}{.08}{.10}{.145}{.171}{.21}
\bxp{3}{0}{.044}{.079}{.105}{.14}
\bxp{4}{.27}{.346}{.46}{.553}{.59}
\bxp{5}{.05}{.075}{.11}{.132}{.22}
\bxp{6}{.04}{.118}{.184}{.215}{.22}
\bxp{7}{.05}{.14}{.263}{.346}{.54}
\bxp{8}{.03}{.07}{.132}{.202}{.24}
\bxp{9}{0}{.04}{.066}{.088}{.09}
\bxp{10}{.03}{.07}{.123}{.145}{.23}
\bxp{11}{0}{.026}{.044}{.057}{.07}
\bxp{12}{0}{.018}{.031}{.048}{.05}
\bxp{13}{.10}{.136}{.175}{.197}{.24}
\bxp{14}{0}{.044}{.061}{.088}{.10}
\olr{(2,.579)(4,.899)(9,.395)(11,.11)(13,.496)(13,.035)(14,.232)}
\end{axis}
\colorlet{mc}{m9}
\begin{axis}[fb, pos={184}{958}, strip={Module 9: DB2 DB3b}, noy]
\bxp{1}{.02}{.048}{.066}{.079}{.12}
\bxp{2}{.01}{.044}{.061}{.118}{.12}
\bxp{3}{.12}{.202}{.329}{.417}{.50}
\bxp{4}{.08}{.123}{.158}{.193}{.22}
\bxp{5}{.17}{.193}{.281}{.491}{.68}
\bxp{6}{0}{.053}{.123}{.175}{.24}
\bxp{7}{0}{.044}{.088}{.136}{.24}
\bxp{8}{0}{.026}{.057}{.10}{.14}
\bxp{9}{0}{.013}{.026}{.044}{.06}
\bxp{10}{.06}{.127}{.189}{.272}{.42}
\bxp{11}{0}{.031}{.053}{.057}{.06}
\bxp{12}{0}{.018}{.04}{.061}{.07}
\bxp{13}{.07}{.127}{.197}{.263}{.30}
\bxp{14}{0}{.009}{.026}{.044}{.05}
\olr{(4,.338)(4,0)(9,.123)(11,.123)(11,.10)(11,0)(12,.136)(14,.14)(14,.118)(14,.10)}
\end{axis}

% F labels and legend
\node[rotate=90, font=\ggf\fs{4.8}, text=gray!10!black] at (8pt,-910pt) {AUC};
\node[font=\ggf\fs{4.8}, text=gray!10!black] at (345pt,-1041pt) {cell\_type};
\node[anchor=west, font=\ggf\fs{4.6}, text=gray!10!black, inner sep=0pt] at (676pt,-867pt) {module};
\foreach \kc/\kt [count=\i from 0] in {m1/Module 1: IMB, m10/Module 10: Less-specific,
  m2/Module 2: DB4a DB4b DB5 RBC, m3/Module 3: DB5 DB6 RBC, m4/Module 4: FMB OFFx DB2,
  m5/Module 5: BB GB, m6/Module 6: DB1 OFFx, m7/Module 7: DB4a DB4b, m8/Module 8: DB3a,
  m9/Module 9: DB2 DB3b} {
  \pgfmathsetmacro\yy{876+8.18*\i}
  \pgfmathsetmacro\ya{-\yy+3}
  \pgfmathsetmacro\yb{-\yy-3}
  \filldraw[fill=\kc, draw=gray!60!black, line width=0.3pt] (676pt,\ya pt) rectangle (684pt,\yb pt);
  \draw[black, line width=0.6pt] (676pt,-\yy pt) -- (684pt,-\yy pt);
  \node[anchor=west, font=\ggf\fs{4.4}, text=gray!10!black, inner sep=0pt] at (687pt,-\yy pt) {\kt};
}
\end{tikzpicture}
\end{document}
